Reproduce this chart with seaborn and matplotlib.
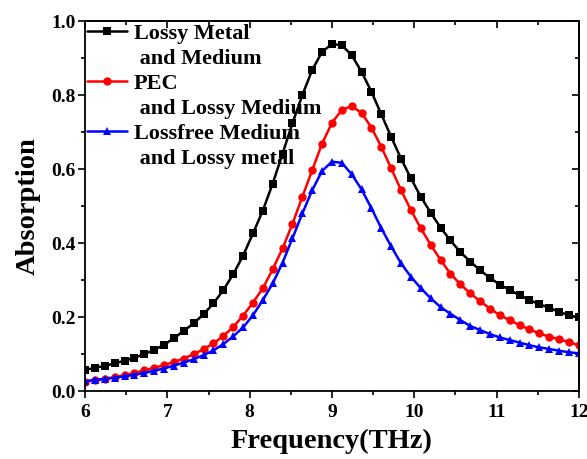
import numpy as np
import pandas as pd
import seaborn as sns
from matplotlib import pyplot as plt
from matplotlib.lines import Line2D
from matplotlib.ticker import MultipleLocator, NullFormatter

# frequency grid (THz), 51 points from 6 to 12
freq = np.round(np.linspace(6, 12, 51), 2)

lossy_metal_medium = [
    0.057, 0.063, 0.068, 0.075, 0.082, 0.090, 0.100, 0.111, 0.125, 0.143,
    0.163, 0.183, 0.208, 0.237, 0.273, 0.316, 0.366, 0.426, 0.488, 0.561,
    0.642, 0.724, 0.800, 0.868, 0.917, 0.938, 0.935, 0.908, 0.863, 0.809,
    0.748, 0.687, 0.628, 0.575, 0.525, 0.482, 0.442, 0.407, 0.376, 0.350,
    0.327, 0.306, 0.288, 0.273, 0.259, 0.246, 0.235, 0.225, 0.214, 0.205,
    0.199,
]
pec_lossy_medium = [
    0.025, 0.029, 0.033, 0.038, 0.043, 0.049, 0.056, 0.063, 0.070, 0.079,
    0.088, 0.100, 0.113, 0.129, 0.149, 0.173, 0.204, 0.239, 0.278, 0.329,
    0.386, 0.452, 0.525, 0.597, 0.669, 0.725, 0.760, 0.770, 0.752, 0.712,
    0.660, 0.602, 0.543, 0.489, 0.440, 0.395, 0.355, 0.317, 0.289, 0.264,
    0.243, 0.223, 0.205, 0.192, 0.178, 0.167, 0.156, 0.147, 0.140, 0.132,
    0.124,
]
lossfree_medium_lossy_metal = [
    0.027, 0.030, 0.033, 0.036, 0.040, 0.044, 0.049, 0.055, 0.061, 0.069,
    0.077, 0.086, 0.097, 0.110, 0.127, 0.148, 0.172, 0.205, 0.246, 0.291,
    0.347, 0.413, 0.480, 0.543, 0.595, 0.620, 0.617, 0.586, 0.545, 0.494,
    0.440, 0.391, 0.345, 0.309, 0.278, 0.251, 0.227, 0.209, 0.192, 0.176,
    0.165, 0.154, 0.145, 0.138, 0.131, 0.124, 0.118, 0.114, 0.109, 0.105,
    0.102,
]

series = [
    ("Lossy Metal", " and Medium", lossy_metal_medium, "black", "s"),
    ("PEC", " and Lossy Medium", pec_lossy_medium, "red", "o"),
    ("Lossfree Medium", " and Lossy metal", lossfree_medium_lossy_metal, "blue", "^"),
]

sns.set_style("ticks")
plt.rcParams["font.family"] = ["Liberation Serif", "DejaVu Serif"]
plt.rcParams["font.weight"] = "bold"
plt.rcParams["text.color"] = "black"
plt.rcParams["axes.labelcolor"] = "black"
plt.rcParams["xtick.color"] = "black"
plt.rcParams["ytick.color"] = "black"
plt.rcParams["axes.edgecolor"] = "black"

fig = plt.figure(figsize=(5.87, 4.59), dpi=100)
ax = fig.add_axes([0.145, 0.148, 0.841, 0.806])

handles, labels = [], []
for first, second, vals, color, marker in series:
    df = pd.DataFrame({"Frequency": freq, "Absorption": vals})
    sns.lineplot(data=df, x="Frequency", y="Absorption", ax=ax, color=color,
                 marker=marker, markersize=6, markeredgewidth=0, linewidth=1.8)
    handles.append(Line2D([], [], color=color, marker=marker, markersize=6,
                          markeredgewidth=0, linewidth=1.8))
    labels.append(first)
    handles.append(Line2D([], [], linestyle="none"))
    labels.append(second)

ax.set_xlim(6, 12)
ax.set_ylim(0, 1.0)
for axis, major, minor in [(ax.xaxis, 1, 0.5), (ax.yaxis, 0.2, 0.1)]:
    axis.set_major_locator(MultipleLocator(major))
    axis.set_minor_locator(MultipleLocator(minor))
ax.tick_params(which="both", direction="out", width=1.2)
ax.tick_params(which="major", length=5, labelsize=14, pad=2)
ax.tick_params(axis="x", which="major", pad=4)
ax.tick_params(which="minor", length=3)
for lbl in ax.get_xticklabels() + ax.get_yticklabels():
    lbl.set_fontweight("bold")
for s in ax.spines.values():
    s.set_linewidth(1.3)

# inward ticks on top and right, no labels
top = ax.secondary_xaxis("top")
right = ax.secondary_yaxis("right")
for sec, major, minor in [(top, 1, 0.5), (right, 0.2, 0.1)]:
    axis = sec.xaxis if sec is top else sec.yaxis
    axis.set_major_locator(MultipleLocator(major))
    axis.set_minor_locator(MultipleLocator(minor))
    axis.set_major_formatter(NullFormatter())
    sec.tick_params(which="both", direction="in", width=1.2)
    sec.tick_params(which="major", length=5)
    sec.tick_params(which="minor", length=3)
    for s in sec.spines.values():
        s.set_linewidth(1.3)

ax.set_xlabel("Frequency(THz)", fontsize=20.5, fontweight="bold", labelpad=6)
ax.set_ylabel("Absorption", fontsize=20.5, fontweight="bold", labelpad=7)

ax.legend(handles, labels, loc="upper left", frameon=False,
          prop={"family": "Liberation Serif", "weight": "bold", "size": 16},
          handlelength=1.8, handletextpad=0.3, labelspacing=0.2,
          borderaxespad=0.0, borderpad=0.1)

fig.savefig("out.png", dpi=100)
